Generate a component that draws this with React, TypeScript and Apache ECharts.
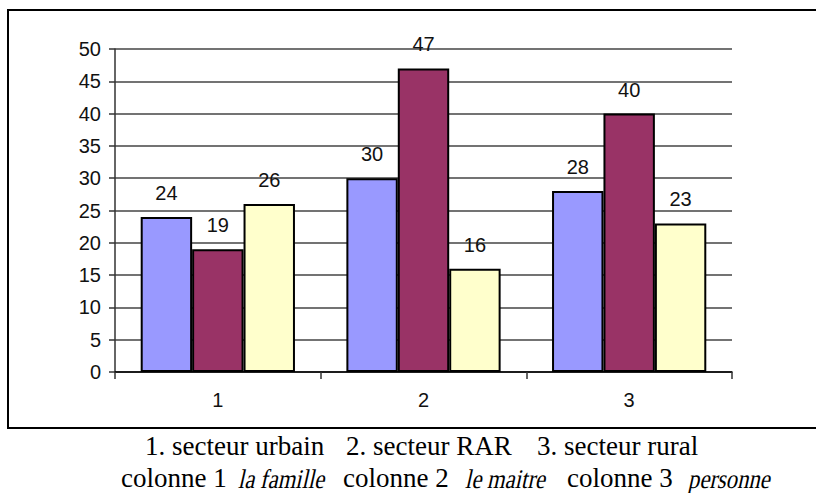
import React, { useEffect, useRef } from "react";
import * as echarts from "echarts";

const categories = ["1", "2", "3"];
const famille = [24, 30, 28];
const maitre = [19, 47, 40];
const personne = [26, 16, 23];
const yTicks = { min: 0, max: 50, interval: 5 };
// caption pieces: [text, italic]
const captionLine1: [string, boolean][] = [
  ["1. secteur urbain", false],
  ["2. secteur RAR", false],
  ["3. secteur rural", false],
];
const captionLine2: [string, boolean][] = [
  ["colonne 1", false],
  ["la famille", true],
  ["colonne 2", false],
  ["le maitre", true],
  ["colonne 3", false],
  ["personne", true],
];
const line1X = [145, 346, 537];
const line2X = [121, 240, 343, 467, 567, 690];

const labelFont = "'Liberation Sans Narrow', 'Arial Narrow', 'Liberation Sans', Arial, sans-serif";

export default function App() {
  const ref = useRef<HTMLDivElement>(null);
  useEffect(() => {
    if (!ref.current) return;
    const chart = echarts.init(ref.current, undefined, { renderer: "svg" });
    const mk = (name: string, data: number[], color: string) => ({
      name,
      type: "bar",
      data,
      barGap: "0%",
      barCategoryGap: "25%",
      itemStyle: { color, borderColor: "#000", borderWidth: 2 },
      label: {
        show: true,
        position: "top",
        distance: 14,
        color: "#111",
        fontFamily: labelFont,
        fontSize: 20,
      },
    });
    const textStyle = (t: string) => ({
      text: t,
      fontFamily: "Liberation Serif",
      fontSize: 27,
      fill: "#000",
      align: "left",
      verticalAlign: "middle",
    });
    const captions: any[] = [];
    captionLine1.forEach(([t], i) =>
      captions.push({ type: "text", x: line1X[i], y: 446, style: textStyle(t) })
    );
    captionLine2.forEach(([t, it], i) => {
      if (!it) captions.push({ type: "text", x: line2X[i], y: 478, style: textStyle(t) });
    });
    chart.setOption({
      animation: false,
      backgroundColor: "#fff",
      grid: { left: 115, right: 84, top: 49, bottom: 121 },
      xAxis: {
        type: "category",
        data: categories,
        axisLine: { lineStyle: { color: "#000", width: 1.5 } },
        axisTick: { show: true, length: 7, lineStyle: { color: "#333", width: 1.5 } },
        axisLabel: { color: "#111", fontFamily: labelFont, fontSize: 20, margin: 18 },
        splitLine: { show: false },
      },
      yAxis: {
        type: "value",
        min: yTicks.min,
        max: yTicks.max,
        interval: yTicks.interval,
        axisLine: { show: true, lineStyle: { color: "#333", width: 1.5 } },
        axisTick: { show: true, length: 6, lineStyle: { color: "#333", width: 1.5 } },
        axisLabel: { color: "#111", fontFamily: labelFont, fontSize: 20, margin: 14 },
        splitLine: { show: true, lineStyle: { color: "#444", width: 1.5 } },
      },
      series: [
        mk("la famille", famille, "#9999FF"),
        mk("le maitre", maitre, "#993366"),
        mk("personne", personne, "#FFFFCC"),
      ],
      graphic: [
        {
          type: "rect",
          shape: { x: 8, y: 10, width: 830, height: 418 },
          style: { fill: "none", stroke: "#000", lineWidth: 2 },
          z: -1,
        },
        ...captions,
      ],
    });
    // italic words: upright serif slanted with a skew transform
    const zr = chart.getZr();
    captionLine2.forEach(([t, it], i) => {
      if (!it) return;
      const el = new (echarts.graphic as any).Text({
        x: line2X[i],
        y: 478,
        skewX: -0.22,
        scaleX: 0.84,
        style: textStyle(t),
        z: 100,
      });
      zr.add(el);
    });
    return () => chart.dispose();
  }, []);
  return (
    <div
      ref={ref}
      style={{ position: "absolute", left: 0, top: 0, width: 816, height: 493 }}
    />
  );
}
